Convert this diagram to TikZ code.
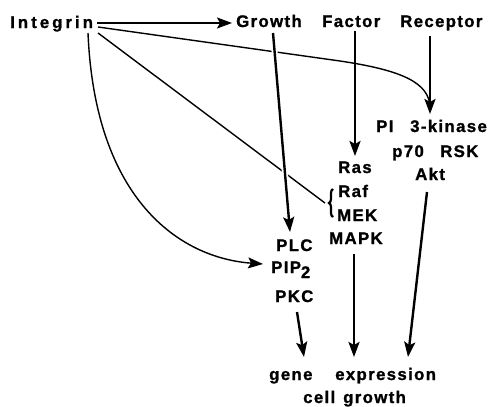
\documentclass[tikz,border=0pt]{standalone}
\usepackage{fontspec}
\setmainfont{Liberation Sans}[LetterSpace=8,FakeBold=1.2]
\usetikzlibrary{arrows.meta,decorations.pathreplacing}
\begin{document}
\begin{tikzpicture}[x=1pt,y=-1pt,
  lbl/.style={font=\fontsize{16.8}{17}\selectfont\bfseries, inner sep=0pt, anchor=base west},
  tip/.style={-{Stealth[length=15pt,width=11pt,inset=3pt]}},
  thickarr/.style={line width=2.4pt, tip},
  thinline/.style={line width=1.4pt},
  gap/.style={preaction={draw=white, line width=6pt}}]
\useasboundingbox (0,0) rectangle (493,407);
% labels
\node[lbl] (integrin) at (10,28) {\addfontfeature{LetterSpace=18}Integrin};
\node[lbl] (growth) at (236,27) {Growth};
\node[lbl] (factor) at (322,27) {Factor};
\node[lbl] (receptor) at (400,27) {Receptor};
\node[lbl] (pi) at (376,132) {PI};
\node[lbl] (kinase) at (410,132) {3-kinase};
\node[lbl] (p70) at (392,157) {p70};
\node[lbl] (rsk) at (440,157) {RSK};
\node[lbl] (akt) at (415,180) {Akt};
\node[lbl] (ras) at (338,173) {Ras};
\node[lbl] (raf) at (338,197) {Raf};
\node[lbl] (mek) at (337,221) {MEK};
\node[lbl] (mapk) at (329,244) {MAPK};
\node[lbl] (plc) at (276,251) {PLC};
\node[lbl] (pip) at (271,273) {PIP\raisebox{-5pt}{2}};
\node[lbl] (pkc) at (275,302) {PKC};
\node[lbl] (gene) at (269,380) {gene};
\node[lbl] (expr) at (335,380) {expression};
\node[lbl] (cell) at (303,403) {cell};
\node[lbl] (cgrowth) at (343,403) {growth};
% connector end points
\coordinate (iA) at (97,23);
\coordinate (gA) at (232,23);
\coordinate (iB) at (98,27);
\coordinate (rB) at (340,61);
\coordinate (rC) at (430,108);
\coordinate (iC) at (98,33);
\coordinate (brTip) at (325,203);
\coordinate (iD) at (88,33);
\coordinate (pipW) at (263,264);
\coordinate (grS) at (273,33);
\coordinate (plcN) at (290,232);
\coordinate (faS) at (355,31);
\coordinate (rasN) at (355,156);
\coordinate (reS) at (430,36);
\coordinate (piN) at (430,114);
\coordinate (mapkS) at (354,254);
\coordinate (exN1) at (354,357);
\coordinate (aktS) at (427,192);
\coordinate (exN2) at (408,357);
\coordinate (pkcS) at (297,312);
\coordinate (geneN) at (304,357);
\coordinate (brB) at (333,217);
\coordinate (brT) at (333,189);
% connectors
\draw[thinline, tip] (iA) -- (gA);
\draw[thinline] (iB) -- (rB) .. controls (400,70) and (430,82) .. (rC);
\draw[thinline] (iC) -- (brTip);
\draw[line width=2.2pt, decorate, decoration={brace, amplitude=4pt}] (brB) -- (brT);
\draw[thinline, tip] (iD) .. controls (95,200) and (180,258) .. (pipW);
\draw[thickarr, gap] (grS) -- (plcN);
\draw[thickarr] (faS) -- (rasN);
\draw[thickarr] (reS) -- (piN);
\draw[thickarr] (mapkS) -- (exN1);
\draw[thickarr] (aktS) -- (exN2);
\draw[thickarr] (pkcS) -- (geneN);
\end{tikzpicture}
\end{document}
